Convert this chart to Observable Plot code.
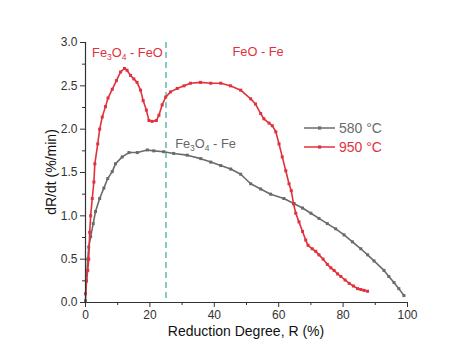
<!DOCTYPE html>
<html><head><meta charset="utf-8">
<script src="https://cdn.jsdelivr.net/npm/d3@7"></script>
<script src="https://cdn.jsdelivr.net/npm/@observablehq/plot@0.6"></script>
<style>body{margin:0;background:#fff;font-family:"Liberation Sans",Arial,sans-serif}</style>
</head><body><div id="chart"></div>
<script>
const redR = [0,0.3,0.7,1.0,1.3,1.6,2.1,2.6,2.9,3.8,4.4,5.2,6.2,7.0,8.3,9.6,10.9,12.1,12.9,14.0,15.0,16.0,17.1,17.9,18.9,19.7,20.7,22.0,22.8,23.8,24.9,26.4,28.5,30.6,32.6,35.7,38.9,42.0,45.0,48.2,51.3,52.8,54.4,55.4,57.0,58.0,59.1,60.1,61.1,62.2,63.2,63.9,64.6,65.3,66.3,67.4,68.4,69.1,70.4,71.5,72.5,73.8,75.1,76.2,77.2,78.3,79.3,80.6,81.9,83.2,84.5,85.5,86.5,87.6];
const redV = [0.10,0.25,0.37,0.50,0.81,1.00,1.20,1.39,1.60,1.83,2.00,2.14,2.26,2.36,2.46,2.56,2.66,2.70,2.68,2.62,2.58,2.54,2.45,2.33,2.22,2.10,2.09,2.10,2.16,2.28,2.37,2.43,2.47,2.50,2.53,2.54,2.53,2.53,2.50,2.45,2.35,2.29,2.18,2.12,2.07,2.04,1.97,1.83,1.68,1.52,1.37,1.29,1.14,1.03,0.93,0.82,0.72,0.66,0.62,0.59,0.55,0.50,0.44,0.40,0.37,0.33,0.30,0.26,0.22,0.19,0.16,0.15,0.14,0.13];
const grayR = [0,0.3,0.7,1.0,1.6,2.4,3.1,4.4,5.7,6.9,8.3,9.3,11.4,13.5,16.1,19.2,21.2,24.3,27.4,31.6,35.8,38.9,42.0,45.1,48.2,51.3,54.4,57.5,61.6,64.8,67.4,70.0,72.5,75.1,77.7,80.3,82.9,85.5,87.6,89.6,92.7,94.2,95.8,97.3,98.9];
const grayV = [0.02,0.25,0.50,0.64,0.76,0.91,1.05,1.20,1.32,1.43,1.51,1.60,1.68,1.73,1.73,1.76,1.75,1.74,1.72,1.70,1.66,1.62,1.58,1.54,1.48,1.37,1.31,1.25,1.20,1.14,1.09,1.03,0.97,0.91,0.85,0.78,0.70,0.62,0.55,0.48,0.37,0.30,0.23,0.16,0.08];
const seriesNames = ["580 °C","950 °C"];
const seriesColors = ["#6b6b6b","#e0323c"];
const xMajor = [0,20,40,60,80,100];
const xMinor = [10,30,50,70,90];
const yMajor = [0,0.5,1.0,1.5,2.0,2.5,3.0];
const yMinor = [0.25,0.75,1.25,1.75,2.25,2.75];
const boundaryR = [25];

const red = redR.map((r,i)=>({r, v: redV[i]}));
const gray = grayR.map((r,i)=>({r, v: grayV[i]}));
const axisColor = "#333";

const chart = Plot.plot({
  width: 474, height: 363,
  marginLeft: 85, marginRight: 67, marginTop: 42, marginBottom: 61,
  style: {fontFamily: '"Liberation Sans", Arial, sans-serif', fontSize: "11px", color: axisColor, background: "#fff"},
  x: {domain: [0,100]},
  y: {domain: [0,3]},
  marks: [
    Plot.ruleX(boundaryR, {stroke: "#3aa89a", strokeWidth: 1.2, strokeDasharray: "6,4"}),
    Plot.line(gray, {x: "r", y: "v", stroke: seriesColors[0], strokeWidth: 1.6}),
    Plot.dot(gray, {x: "r", y: "v", fill: seriesColors[0], r: 1.7, symbol: "square"}),
    Plot.line(red, {x: "r", y: "v", stroke: seriesColors[1], strokeWidth: 1.6}),
    Plot.dot(red, {x: "r", y: "v", fill: seriesColors[1], r: 1.7, symbol: "square"}),
    Plot.axisX({ticks: xMajor, tickSize: 5, tickPadding: 3, stroke: axisColor, label: null, fontSize: 12}),
    Plot.axisX({ticks: xMinor, tickSize: 3, stroke: axisColor, label: null, text: null}),
    Plot.axisY({ticks: yMajor, tickSize: 5, tickPadding: 3, stroke: axisColor, tickFormat: d3.format(".1f"), label: null, fontSize: 12}),
    Plot.axisY({ticks: yMinor, tickSize: 3, stroke: axisColor, label: null, text: null}),
    Plot.ruleY([0], {stroke: axisColor, strokeWidth: 1.2}),
    Plot.ruleX([0], {stroke: axisColor, strokeWidth: 1.2})
  ]
});
document.getElementById("chart").appendChild(chart);

const svg = d3.select(chart);
const sx = chart.scale("x"), sy = chart.scale("y");
const font = '"Liberation Sans", Arial, sans-serif';

// axis titles
svg.append("text").attr("x", 246).attr("y", 336).attr("text-anchor","middle")
  .attr("font-size", 14).attr("font-family", font).attr("fill", "#111").text("Reduction Degree, R (%)");
svg.append("text").attr("transform","translate(56,172) rotate(-90)").attr("text-anchor","middle")
  .attr("font-size", 14).attr("font-family", font).attr("fill", "#111").text("dR/dt (%/min)");

// annotations with subscripts
function chem(x, y, parts, color){
  const t = svg.append("text").attr("x", x).attr("y", y).attr("font-size", 12.8)
    .attr("text-anchor", "start").attr("font-family", font).attr("fill", color);
  parts.forEach(p => {
    const ts = t.append("tspan").text(p[0]);
    if (p[1]) ts.attr("font-size", 8.5).attr("dy", 3);
    else if (p[2]) ts.attr("dy", -3);
  });
}
chem(sx.apply(2.2), sy.apply(2.83), [["Fe"],["3",1],["O",0,1],["4",1],[" - FeO",0,1]], seriesColors[1]);
chem(sx.apply(45.8), sy.apply(2.84), [["FeO - Fe"]], seriesColors[1]);
chem(sx.apply(28), sy.apply(1.78), [["Fe"],["3",1],["O",0,1],["4",1],[" - Fe",0,1]], "#666");

// legend
const lg = svg.append("g");
[128, 147].forEach((yy, i) => {
  lg.append("line").attr("x1", 304).attr("x2", 335).attr("y1", yy).attr("y2", yy)
    .attr("stroke", seriesColors[i]).attr("stroke-width", 1.5);
  lg.append("rect").attr("x", 318).attr("y", yy-1.6).attr("width", 3.2).attr("height", 3.2).attr("fill", seriesColors[i]);
  lg.append("text").attr("x", 339).attr("y", yy+5).attr("font-size", 14).attr("font-family", font)
    .attr("text-anchor", "start").attr("fill", seriesColors[i]).text(seriesNames[i]);
});
</script></body></html>
